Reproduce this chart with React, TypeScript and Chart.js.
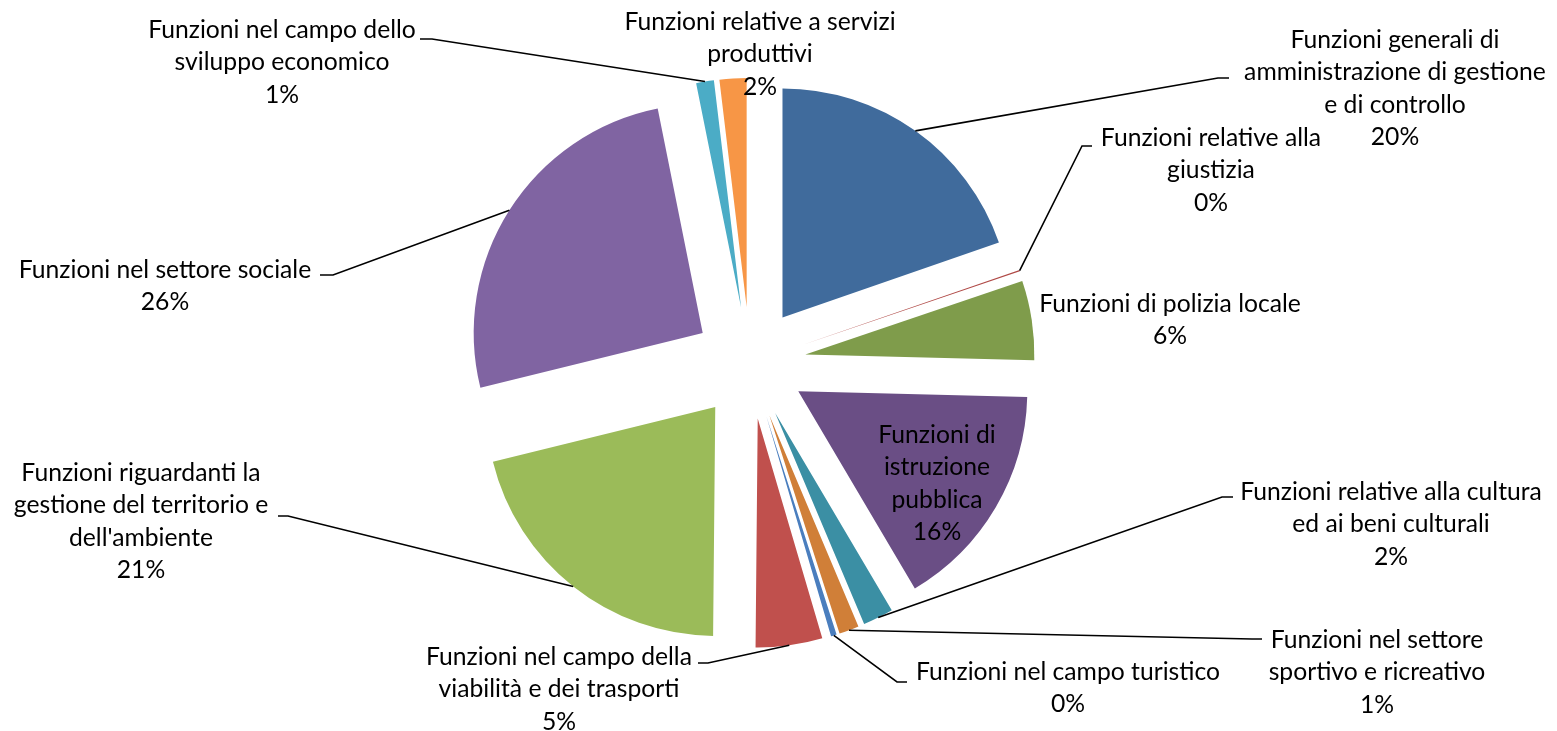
import React, { useEffect, useRef } from 'react';
import { Chart, registerables } from 'chart.js';

Chart.register(...registerables);

// ---- data ----
const categories: string[] = [
  'Funzioni generali di amministrazione di gestione e di controllo',
  'Funzioni relative alla giustizia',
  'Funzioni di polizia locale',
  'Funzioni di istruzione pubblica',
  'Funzioni relative alla cultura ed ai beni culturali',
  'Funzioni nel settore sportivo e ricreativo',
  'Funzioni nel campo turistico',
  'Funzioni nel campo della viabilità e dei trasporti',
  "Funzioni riguardanti la gestione del territorio e dell'ambiente",
  'Funzioni nel settore sociale',
  'Funzioni nel campo dello sviluppo economico',
  'Funzioni relative a servizi produttivi',
];

const shares: number[] = [19.7, 0.1, 5.6, 16.1, 2.15, 1.4, 0.4, 4.7, 21.0, 25.7, 1.25, 1.9];

const labelLines: string[][] = [
  ['Funzioni generali di', 'amministrazione di gestione', 'e di controllo'],
  ['Funzioni relative alla', 'giustizia'],
  ['Funzioni di polizia locale'],
  ['Funzioni di', 'istruzione', 'pubblica'],
  ['Funzioni relative alla cultura', 'ed ai beni culturali'],
  ['Funzioni nel settore', 'sportivo e ricreativo'],
  ['Funzioni nel campo turistico'],
  ['Funzioni nel campo della', 'viabilità e dei trasporti'],
  ['Funzioni riguardanti la', 'gestione del territorio e', "dell'ambiente"],
  ['Funzioni nel settore sociale'],
  ['Funzioni nel campo dello', 'sviluppo economico'],
  ['Funzioni relative a servizi', 'produttivi'],
];

// ---- styles / layout ----
const colors: string[] = [
  '#406B9C', '#B04A47', '#7F9C4B', '#6A4E85', '#3B8FA4', '#D07F38',
  '#4A7EBE', '#C0504D', '#9BBB59', '#8064A2', '#4BACC6', '#F79646',
];

const EXPLODE = 56;
const RADIUS = 229;
const FONT_SIZE = 24.7;
const LINE_H = 32.5;
const FONT = `${FONT_SIZE}px Lato, "Noto Sans", sans-serif`;

type LabelPos = { x: number; y: number; elbow?: [number, number]; end?: [number, number] };
const labelPos: LabelPos[] = [
  { x: 1395, y: 40, elbow: [1218, 78], end: [1229, 78] },
  { x: 1211, y: 138, elbow: [1082, 146], end: [1092, 146] },
  { x: 1170, y: 304 },
  { x: 937, y: 435 },
  { x: 1391, y: 492, elbow: [1222, 497], end: [1233, 497] },
  { x: 1377, y: 640, elbow: [1252, 639], end: [1262, 639] },
  { x: 1068, y: 672, elbow: [897, 682], end: [907, 682] },
  { x: 559, y: 657, elbow: [708, 663], end: [698, 663] },
  { x: 141, y: 473, elbow: [288, 516], end: [278, 516] },
  { x: 165, y: 270, elbow: [333, 275], end: [320, 275] },
  { x: 282, y: 30, elbow: [432, 39], end: [420, 39] },
  { x: 760, y: 22 },
];

const explodePlugin = {
  id: 'explodeSlices',
  afterDatasetsUpdate(chart: any) {
    const meta = chart.getDatasetMeta(0);
    meta.data.forEach((arc: any) => {
      const mid = (arc.startAngle + arc.endAngle) / 2;
      arc.x += EXPLODE * Math.cos(mid);
      arc.y += EXPLODE * Math.sin(mid);
    });
  },
};

const labelPlugin = {
  id: 'sliceLabels',
  afterDraw(chart: any) {
    const ctx: CanvasRenderingContext2D = chart.ctx;
    const meta = chart.getDatasetMeta(0);
    const data: number[] = chart.data.datasets[0].data;
    const total = data.reduce((a, b) => a + b, 0);
    ctx.save();
    meta.data.forEach((arc: any, i: number) => {
      const pos = labelPos[i];
      if (pos.elbow && pos.end) {
        const mid = (arc.startAngle + arc.endAngle) / 2;
        const sx = arc.x + arc.outerRadius * Math.cos(mid);
        const sy = arc.y + arc.outerRadius * Math.sin(mid);
        ctx.beginPath();
        ctx.moveTo(sx, sy);
        ctx.lineTo(pos.elbow[0], pos.elbow[1]);
        ctx.lineTo(pos.end[0], pos.end[1]);
        ctx.strokeStyle = '#000';
        ctx.lineWidth = 1.6;
        ctx.stroke();
      }
      const lines = [...labelLines[i], `${Math.round((data[i] / total) * 100)}%`];
      ctx.font = FONT;
      ctx.fillStyle = '#000';
      ctx.textAlign = 'center';
      ctx.textBaseline = 'middle';
      lines.forEach((t, k) => ctx.fillText(t, pos.x, pos.y + k * LINE_H));
    });
    ctx.restore();
  },
};

export default function App() {
  const ref = useRef<HTMLCanvasElement | null>(null);
  useEffect(() => {
    document.body.style.margin = '0';
    const canvas = ref.current!;
    const chart = new Chart(canvas, {
      type: 'pie',
      data: {
        labels: categories,
        datasets: [
          {
            data: shares,
            backgroundColor: colors,
            borderWidth: 0,
          },
        ],
      },
      options: {
        animation: false,
        responsive: false,
        radius: RADIUS,
        layout: { padding: { left: 0, right: 57, top: 0, bottom: 5 } },
        plugins: {
          legend: { display: false },
          tooltip: { enabled: false },
        },
      } as any,
      plugins: [explodePlugin, labelPlugin],
    });
    return () => chart.destroy();
  }, []);
  return (
    <div style={{ width: 1557, height: 731, background: '#fff' }}>
      <canvas ref={ref} width={1557} height={731} style={{ display: 'block' }} />
    </div>
  );
}
